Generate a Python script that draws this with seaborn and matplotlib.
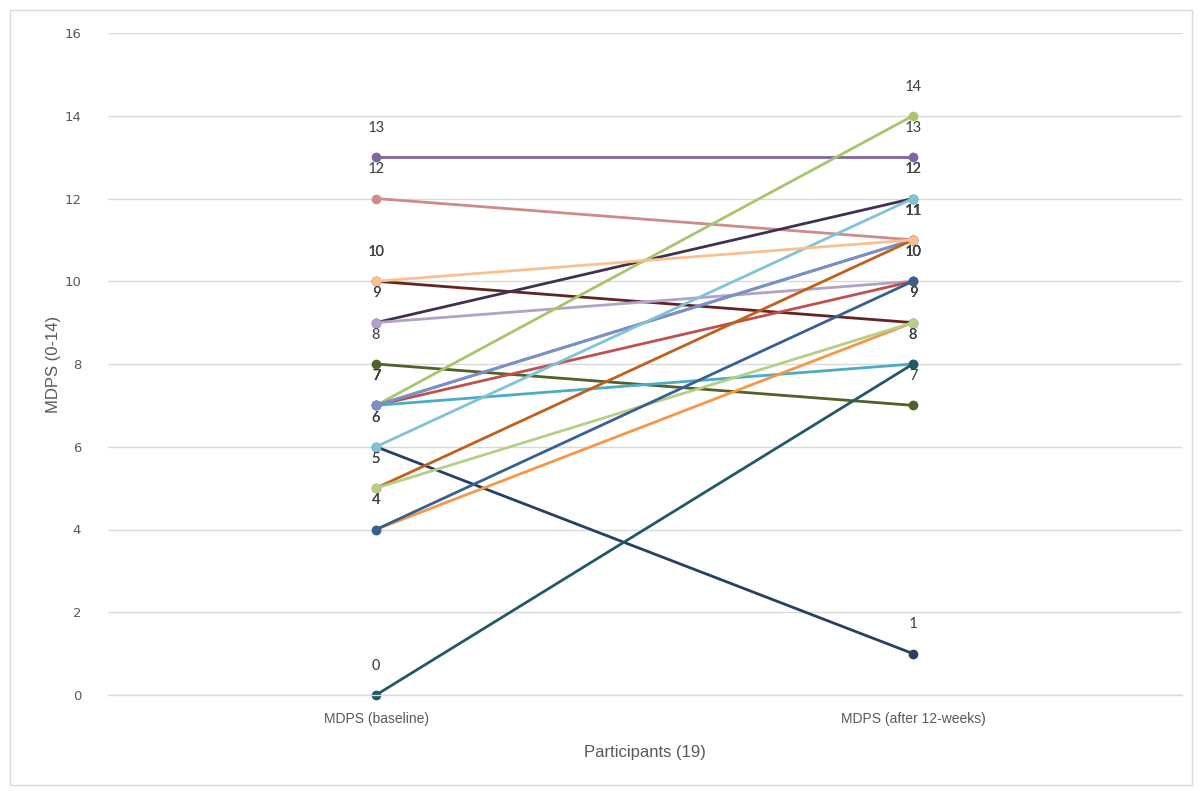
import matplotlib
matplotlib.use("Agg")
import matplotlib.pyplot as plt
from matplotlib.patches import Rectangle
import pandas as pd
import seaborn as sns

# Data: MDPS score per participant, baseline vs after 12 weeks
TIMES = ["MDPS (baseline)", "MDPS (after 12-weeks)"]
BASELINE = [13, 12, 10, 9, 9, 8, 7, 7, 7, 7, 7, 6, 6, 5, 4, 5, 4, 0, 10]
AFTER = [13, 11, 9, 12, 10, 7, 14, 10, 8, 11, 11, 1, 12, 11, 9, 9, 10, 8, 11]
PARTICIPANTS = [f"P{i + 1}" for i in range(len(BASELINE))]
COLORS = [
    "#8064A2", "#D08B89", "#632523", "#403152", "#B3A2C7", "#4F6228",
    "#A9C56B", "#C0504D", "#4BACC6", "#4F81BD", "#7C8FC8", "#254061",
    "#7EC3D6", "#C0601A", "#F79646", "#B5CF85", "#366092", "#215968",
    "#FAC090",
]

rows = []
for p, b, a in zip(PARTICIPANTS, BASELINE, AFTER):
    rows.append({"participant": p, "time": TIMES[0], "score": b})
    rows.append({"participant": p, "time": TIMES[1], "score": a})
df = pd.DataFrame(rows)

sns.set_theme(style="white")
plt.rcParams["font.family"] = ["Liberation Sans Narrow", "Liberation Sans", "DejaVu Sans"]

fig = plt.figure(figsize=(12.03, 7.91), dpi=100)
ax = fig.add_axes([107.5 / 1203, 1 - 695 / 791, 1074 / 1203, 662 / 791])

sns.lineplot(
    data=df, x="time", y="score", hue="participant", palette=COLORS,
    marker="o", markersize=7, markeredgewidth=0, linewidth=2.0,
    legend=False, ax=ax, clip_on=False,
)

# data labels above every point
for _, r in df.iterrows():
    ax.annotate(
        str(r["score"]), (TIMES.index(r["time"]), r["score"]),
        xytext=(0, 21), textcoords="offset points",
        ha="center", va="center", fontsize=12, color="#404040",
        family=["Calibri", "Carlito", "Liberation Sans", "DejaVu Sans"],
    )

ax.set_xlim(-0.5, 1.5)
ax.set_ylim(0, 16)
ax.set_yticks(range(0, 17, 2))
ax.grid(axis="y", color="#D9D9D9", linewidth=1)
ax.set_axisbelow(True)
for s in ax.spines.values():
    s.set_visible(False)
ax.spines["bottom"].set_visible(True)
ax.spines["bottom"].set_color("#D9D9D9")
ax.spines["bottom"].set_linewidth(1)
ax.tick_params(axis="both", length=0, colors="#595959", labelsize=10)
ax.tick_params(axis="y", pad=19)
ax.tick_params(axis="x", pad=12)
for lbl in ax.get_yticklabels():
    lbl.set_family(["DejaVu Sans"])
    lbl.set_fontsize(9.5)

ax.set_xlabel("Participants (19)", fontsize=12, color="#595959", labelpad=14)
ax.set_ylabel("MDPS (0-14)", fontsize=12, color="#595959", labelpad=2)

# chart area border
fig.patches.append(Rectangle((10 / 1203, 6 / 791), 1182 / 1203, 775 / 791,
                             transform=fig.transFigure, fill=False,
                             edgecolor="#D9D9D9", linewidth=1))

fig.savefig("out.png", dpi=100)
